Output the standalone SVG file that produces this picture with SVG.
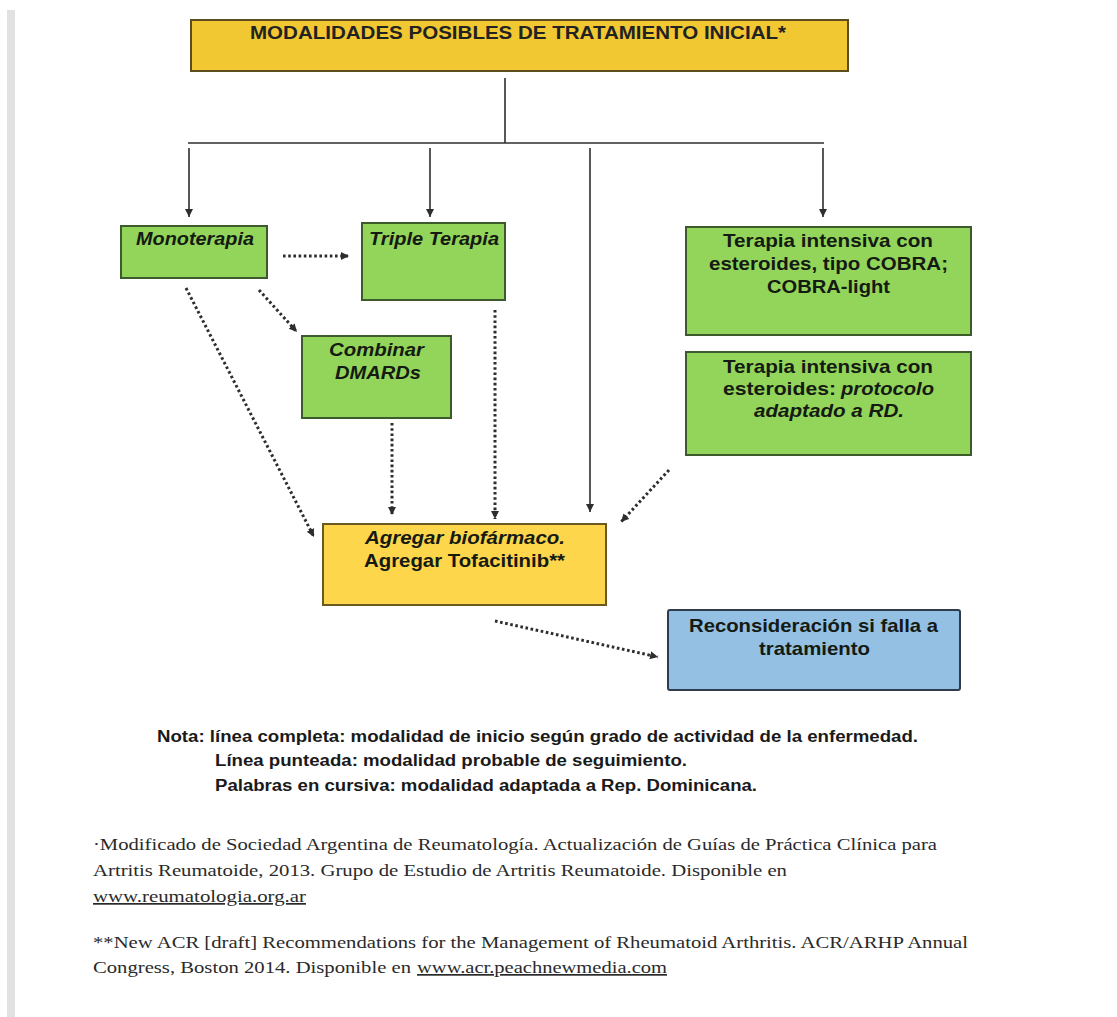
<svg xmlns="http://www.w3.org/2000/svg" width="1117" height="1017" viewBox="0 0 1117 1017">
<style>
  .box { stroke-width: 2; }
  .green { fill: #92d55a; stroke: #3c5a2c; }
  .gold { fill: #f2c832; stroke: #5c4c1e; }
  .yellow { fill: #fdd64c; stroke: #6a5a22; }
  .blue { fill: #93c0e3; stroke: #2e3c4e; }
  .t { font-family: "Liberation Sans", Arial, sans-serif; font-weight: bold; font-size: 19px; fill: #151a12; }
  .i { font-style: italic; }
  .title { font-size: 18px; fill: #222; }
  .note { font-family: "Liberation Sans", Arial, sans-serif; font-weight: bold; font-size: 16px; fill: #1a1a1a; }
  .fn { font-family: "Liberation Serif", "Times New Roman", serif; font-size: 17px; fill: #2a2a2a; }
  .solid { stroke: #2e2e2e; stroke-width: 1.6; fill: none; }
  .dot { stroke: #2e2e2e; stroke-width: 3; fill: none; stroke-dasharray: 2.6 2.6; }
</style>
<defs>
  <marker id="ah" markerUnits="userSpaceOnUse" markerWidth="10" markerHeight="10" refX="8" refY="4" orient="auto">
    <path d="M0,0 L8,4 L0,8 z" fill="#2e2e2e"/>
  </marker>
</defs>
<rect x="0" y="0" width="1117" height="1017" fill="#ffffff"/>
<rect x="7" y="10" width="8" height="1007" fill="#e2e2e2"/>

<g id="connectors">
  <line class="solid" x1="505" y1="78" x2="505" y2="143"/>
  <line class="solid" x1="188" y1="143" x2="824" y2="143"/>
  <line class="solid" x1="189" y1="148" x2="189" y2="217" marker-end="url(#ah)"/>
  <line class="solid" x1="430" y1="148" x2="430" y2="217" marker-end="url(#ah)"/>
  <line class="solid" x1="590" y1="148" x2="590" y2="512" marker-end="url(#ah)"/>
  <line class="solid" x1="823" y1="148" x2="823" y2="217" marker-end="url(#ah)"/>
  <line class="dot" x1="283" y1="256" x2="349" y2="256" marker-end="url(#ah)"/>
  <line class="dot" x1="186" y1="288" x2="314" y2="537" marker-end="url(#ah)"/>
  <line class="dot" x1="259" y1="290" x2="297" y2="332" marker-end="url(#ah)"/>
  <line class="dot" x1="392" y1="423" x2="392" y2="515" marker-end="url(#ah)"/>
  <line class="dot" x1="495" y1="310" x2="495" y2="519" marker-end="url(#ah)"/>
  <line class="dot" x1="669" y1="470" x2="621" y2="522" marker-end="url(#ah)"/>
  <line class="dot" x1="495" y1="621" x2="658" y2="657" marker-end="url(#ah)"/>
</g>

<g id="title">
  <rect class="box gold" x="191" y="20" width="657" height="51"/>
  <text class="t title" x="250" y="39" textLength="536" lengthAdjust="spacingAndGlyphs">MODALIDADES POSIBLES DE TRATAMIENTO INICIAL*</text>
</g>

<g id="monoterapia">
  <rect class="box green" x="121" y="226" width="146" height="52"/>
  <text class="t i" x="136" y="245" textLength="118" lengthAdjust="spacingAndGlyphs">Monoterapia</text>
</g>

<g id="triple">
  <rect class="box green" x="362" y="223" width="143" height="77"/>
  <text class="t i" x="369" y="245" textLength="130" lengthAdjust="spacingAndGlyphs">Triple Terapia</text>
</g>

<g id="cobra">
  <rect class="box green" x="686" y="227" width="285" height="108"/>
  <text class="t" x="723" y="247" textLength="210" lengthAdjust="spacingAndGlyphs">Terapia intensiva con</text>
  <text class="t" x="709" y="270" textLength="239" lengthAdjust="spacingAndGlyphs">esteroides, tipo COBRA;</text>
  <text class="t" x="767" y="293" textLength="123" lengthAdjust="spacingAndGlyphs">COBRA-light</text>
</g>

<g id="protocolo">
  <rect class="box green" x="686" y="352" width="285" height="103"/>
  <text class="t" x="723" y="373" textLength="210" lengthAdjust="spacingAndGlyphs">Terapia intensiva con</text>
  <text class="t" x="723" y="395" textLength="113" lengthAdjust="spacingAndGlyphs">esteroides:</text>
  <text class="t i" x="841" y="395" textLength="93" lengthAdjust="spacingAndGlyphs">protocolo</text>
  <text class="t i" x="754" y="417" textLength="150" lengthAdjust="spacingAndGlyphs">adaptado a RD.</text>
</g>

<g id="combinar">
  <rect class="box green" x="302" y="336" width="149" height="82"/>
  <text class="t i" x="329" y="356" textLength="95" lengthAdjust="spacingAndGlyphs">Combinar</text>
  <text class="t i" x="335" y="379" textLength="86" lengthAdjust="spacingAndGlyphs">DMARDs</text>
</g>

<g id="agregar">
  <rect class="box yellow" x="323" y="524" width="283" height="81"/>
  <text class="t i" x="365" y="544" textLength="200" lengthAdjust="spacingAndGlyphs">Agregar biofármaco.</text>
  <text class="t" x="364" y="567" textLength="201" lengthAdjust="spacingAndGlyphs">Agregar Tofacitinib**</text>
</g>

<g id="reconsideracion">
  <rect class="box blue" x="668" y="610" width="292" height="80" rx="2"/>
  <text class="t" x="689" y="632" textLength="249" lengthAdjust="spacingAndGlyphs">Reconsideración si falla a</text>
  <text class="t" x="759" y="655" textLength="111" lengthAdjust="spacingAndGlyphs">tratamiento</text>
</g>

<g id="nota">
  <text class="note" x="157" y="742" textLength="761" lengthAdjust="spacingAndGlyphs">Nota: línea completa: modalidad de inicio según grado de actividad de la enfermedad.</text>
  <text class="note" x="215" y="766" textLength="472" lengthAdjust="spacingAndGlyphs">Línea punteada: modalidad probable de seguimiento.</text>
  <text class="note" x="215" y="791" textLength="542" lengthAdjust="spacingAndGlyphs">Palabras en cursiva: modalidad adaptada a Rep. Dominicana.</text>
</g>

<g id="footnotes">
  <text class="fn" x="93" y="850" textLength="844" lengthAdjust="spacingAndGlyphs">·Modificado de Sociedad Argentina de Reumatología. Actualización de Guías de Práctica Clínica para</text>
  <text class="fn" x="93" y="876" textLength="694" lengthAdjust="spacingAndGlyphs">Artritis Reumatoide, 2013. Grupo de Estudio de Artritis Reumatoide. Disponible en</text>
  <text class="fn" x="93" y="902" textLength="213" lengthAdjust="spacingAndGlyphs" text-decoration="underline">www.reumatologia.org.ar</text>
  <text class="fn" x="93" y="948" textLength="875" lengthAdjust="spacingAndGlyphs">**New ACR [draft] Recommendations for the Management of Rheumatoid Arthritis. ACR/ARHP Annual</text>
  <text class="fn" x="93" y="973" textLength="318" lengthAdjust="spacingAndGlyphs">Congress, Boston 2014. Disponible en</text>
  <text class="fn" x="417" y="973" textLength="250" lengthAdjust="spacingAndGlyphs" text-decoration="underline">www.acr.peachnewmedia.com</text>
</g>
</svg>
